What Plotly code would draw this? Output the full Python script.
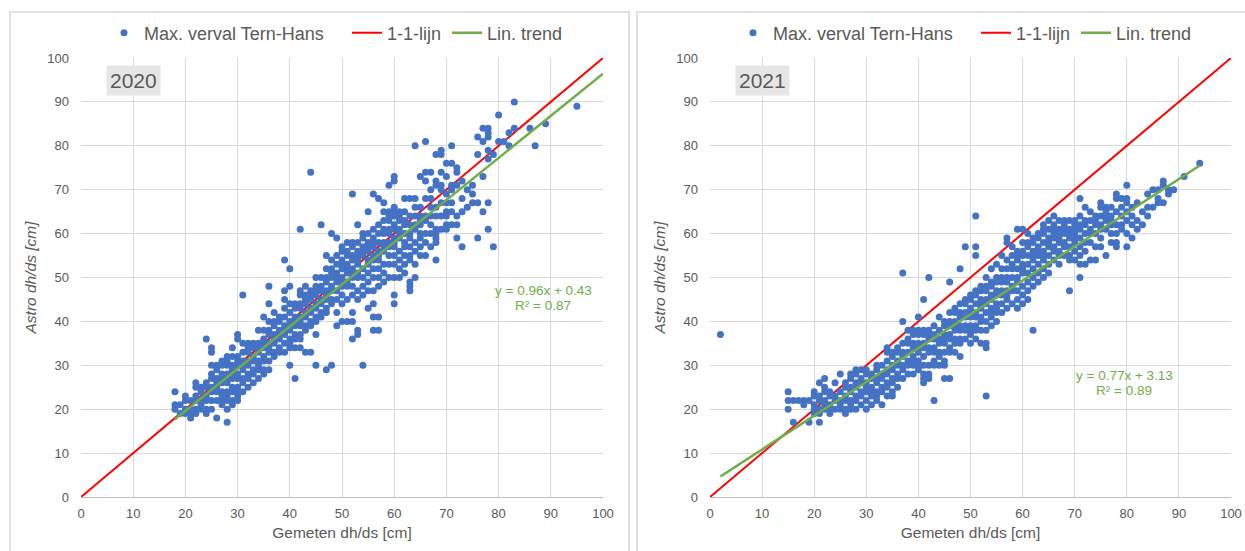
import plotly.graph_objects as go

# ---------------- data ----------------
# 2020: each measured value (x, cm) with the astro values (y, cm) seen at that x
x_2020 = [18, 19, 20, 21, 22, 23, 24, 25, 26, 27, 28, 29, 30, 31, 32, 33, 34, 35,
          36, 37, 38, 39, 40, 41, 42, 43, 44, 45, 46, 47, 48, 49, 50, 51, 52, 53,
          54, 55, 56, 57, 58, 59, 60, 61, 62, 63, 64, 65, 66, 67, 68, 69, 70, 71,
          72, 73, 74, 75, 76, 77, 78, 79, 80, 81, 82, 83, 86, 87, 89, 95]
y_2020 = [
    [24, 21, 20],
    [21, 19],
    [23, 22, 20, 19],
    [22, 20, 19, 18],
    [26, 25, 23, 22, 20, 19],
    [25, 24, 22, 21, 20],
    [36, 26, 25, 23, 22, 20, 19],
    [34, 33, 30, 28, 27, 25, 24, 22, 20],
    [30, 29, 27, 26, 25, 24, 22, 18],
    [31, 30, 28, 27, 26, 24, 23, 22, 21],
    [32, 31, 30, 28, 27, 26, 24, 23, 22, 20, 17],
    [34, 32, 30, 29, 28, 27, 25, 24, 22, 21],
    [37, 36, 32, 31, 30, 28, 27, 25, 24, 23, 22],
    [46, 35, 33, 31, 30, 29, 27, 26, 24],
    [35, 34, 33, 31, 30, 28, 27, 25],
    [35, 34, 32, 31, 29, 28, 26],
    [38, 35, 34, 33, 31, 30, 29, 27],
    [41, 38, 36, 35, 34, 32, 31, 29, 28],
    [48, 44, 40, 38, 37, 35, 34, 33, 31, 29],
    [42, 40, 39, 37, 36, 35, 33, 32],
    [41, 40, 38, 37, 36, 34, 33],
    [54, 47, 45, 43, 41, 39, 38, 37, 35, 33],
    [52, 48, 44, 42, 40, 39, 38, 36, 35, 34, 30],
    [44, 43, 41, 40, 39, 37, 36, 34, 27],
    [61, 47, 46, 44, 43, 41, 40, 39, 37, 36, 34],
    [48, 46, 45, 44, 42, 41, 39, 38, 33],
    [74, 47, 46, 45, 43, 42, 40, 39, 33],
    [50, 48, 47, 46, 44, 43, 41, 40, 37, 30],
    [62, 50, 48, 47, 45, 44, 42, 41],
    [55, 52, 50, 49, 47, 46, 45, 43, 42, 29],
    [60, 54, 52, 51, 50, 48, 47, 45, 44, 30],
    [59, 55, 53, 51, 50, 49, 47, 45, 42, 39],
    [57, 56, 54, 53, 52, 50, 49, 48, 46, 44, 40],
    [58, 56, 55, 53, 52, 51, 49, 48, 45, 40],
    [69, 58, 57, 55, 54, 52, 51, 50, 48, 46, 42, 40, 36],
    [62, 58, 56, 55, 54, 53, 51, 50, 47, 45, 38, 37],
    [60, 59, 57, 56, 55, 52, 50, 48, 46, 30],
    [65, 60, 58, 57, 56, 54, 53, 51, 49, 47, 43],
    [69, 61, 59, 58, 57, 55, 54, 52, 50, 47, 44, 41, 38],
    [68, 62, 60, 58, 56, 55, 54, 52, 50, 48, 41, 38],
    [67, 65, 63, 61, 60, 58, 57, 56, 53, 51, 49],
    [71, 65, 64, 63, 61, 60, 58, 57, 55, 53, 50],
    [73, 72, 66, 65, 64, 62, 61, 59, 58, 57, 55, 53, 50, 46, 44],
    [65, 64, 63, 61, 60, 59, 56, 54, 52, 50],
    [68, 65, 63, 62, 60, 58, 57, 55, 53, 51],
    [68, 64, 62, 60, 59, 57, 55, 54, 49, 48, 47],
    [80, 68, 66, 64, 62, 61, 58, 56, 53, 50],
    [73, 66, 64, 63, 62, 60, 59, 57, 55],
    [81, 74, 72, 68, 64, 63, 60, 58, 55],
    [74, 70, 68, 66, 64, 62, 60, 57],
    [78, 72, 71, 66, 64, 61, 60, 59, 58, 54],
    [79, 78, 74, 71, 70, 67, 64, 61],
    [76, 73, 69, 67, 65, 64, 62, 61],
    [80, 76, 71, 70, 67, 65, 62],
    [75, 74, 71, 64, 62, 59],
    [72, 68, 65, 57],
    [70, 66],
    [71, 69, 67],
    [82, 78, 67, 59],
    [84, 81, 73, 65],
    [84, 83, 82, 79, 77, 67, 61],
    [78, 57],
    [87, 81],
    [81],
    [83, 80],
    [90, 84],
    [84],
    [80],
    [85],
    [89],
]

# 2021
x_2021 = [2, 15, 16, 17, 18, 19, 20, 21, 22, 23, 24, 25, 26, 27, 28, 29, 30, 31,
          32, 33, 34, 35, 36, 37, 38, 39, 40, 41, 42, 43, 44, 45, 46, 47, 48, 49,
          50, 51, 52, 53, 54, 55, 56, 57, 58, 59, 60, 61, 62, 63, 64, 65, 66, 67,
          68, 69, 70, 71, 72, 73, 74, 75, 76, 77, 78, 79, 80, 81, 82, 83, 84, 85,
          86, 87, 88, 89, 91, 94]
y_2021 = [
    [37],
    [24, 22, 20],
    [22, 17],
    [22],
    [21, 22],
    [22, 17],
    [24, 23, 21, 20, 19],
    [26, 23, 22, 20, 19, 17],
    [27, 25, 24, 22, 21, 20],
    [24, 23, 21, 20, 19],
    [26, 23, 22, 20],
    [28, 24, 22, 21, 20],
    [26, 25, 23, 22, 20, 19],
    [28, 27, 25, 24, 22, 21, 20],
    [29, 28, 26, 25, 23, 22, 20],
    [29, 27, 26, 24, 23, 21],
    [29, 28, 26, 25, 24, 22, 20],
    [28, 27, 25, 24, 23, 21],
    [30, 29, 27, 26, 24, 23, 22],
    [30, 28, 27, 25, 24, 21],
    [34, 33, 31, 29, 28, 26, 25, 23],
    [33, 32, 30, 29, 27, 26, 24, 23],
    [34, 33, 31, 30, 28, 27, 25],
    [51, 40, 35, 33, 32, 30, 29, 27],
    [38, 36, 35, 33, 31, 30, 28],
    [38, 37, 35, 34, 32, 31, 30, 28],
    [41, 38, 37, 35, 34, 33, 31, 30, 29],
    [45, 38, 37, 35, 34, 32, 30, 28, 27, 26],
    [50, 38, 37, 36, 34, 33, 30, 28, 27],
    [39, 37, 36, 34, 33, 31, 30, 22],
    [41, 38, 36, 35, 33, 32, 30],
    [40, 39, 37, 36, 35, 33, 31, 30, 27],
    [49, 42, 40, 39, 37, 36, 34, 33, 27],
    [43, 42, 40, 39, 38, 36, 35, 33],
    [52, 44, 42, 41, 39, 38, 36, 35, 32],
    [57, 45, 44, 42, 41, 39, 38, 36],
    [46, 45, 43, 42, 41, 39, 38, 37, 35],
    [64, 57, 55, 47, 46, 44, 42, 41, 39, 38, 36],
    [48, 47, 45, 44, 43, 41, 40, 38, 35],
    [50, 48, 47, 45, 44, 42, 40, 38, 35, 34, 23],
    [52, 49, 48, 46, 45, 43, 42, 41, 39],
    [53, 50, 49, 47, 46, 44, 43, 42, 40],
    [55, 52, 50, 49, 47, 46, 44, 42],
    [59, 58, 54, 52, 50, 49, 47, 46, 45, 43],
    [57, 55, 53, 52, 50, 48, 47, 44],
    [61, 56, 55, 54, 52, 50, 49, 47, 45, 43],
    [61, 58, 56, 55, 53, 52, 51, 48, 46, 44],
    [60, 58, 57, 55, 53, 51, 49, 47, 45],
    [59, 58, 56, 55, 54, 52, 50, 48, 38],
    [60, 59, 57, 56, 55, 53, 51, 49],
    [62, 61, 60, 58, 56, 55, 54, 52, 50],
    [63, 61, 59, 58, 57, 55, 53, 51],
    [64, 62, 61, 60, 59, 57, 56, 54],
    [63, 61, 60, 59, 58, 56, 55, 53],
    [63, 62, 61, 60, 58, 57, 55],
    [63, 61, 60, 59, 57, 55, 54, 47],
    [63, 62, 61, 60, 59, 58, 56, 54],
    [68, 64, 62, 61, 59, 57, 55, 53, 50],
    [66, 63, 62, 60, 58, 56, 53],
    [65, 63, 61, 60, 58, 54],
    [64, 63, 62, 60, 57, 54],
    [67, 66, 64, 62, 61, 59, 57],
    [66, 65, 64, 63, 61, 55],
    [66, 64, 63, 62, 60, 58],
    [69, 68, 65, 62, 60, 58, 57],
    [68, 66, 64, 62, 61],
    [71, 68, 67, 65, 63, 60, 57],
    [66, 64, 62, 59],
    [67, 63, 61],
    [65, 62],
    [69, 66, 64],
    [70, 66],
    [70, 68, 67],
    [72, 71, 67],
    [69, 70],
    [70],
    [73],
    [76],
]

years = ["2020", "2021"]
trend_slope = [0.96, 0.77]
trend_intercept = [0.43, 3.13]
trend_r2 = [0.87, 0.89]
trend_x_range = [[18, 100], [2, 94]]
one_to_one = [0, 100]
axis_ticks = [0, 10, 20, 30, 40, 50, 60, 70, 80, 90, 100]

series_name = "Max. verval Tern-Hans"
line_name = "1-1-lijn"
trend_name = "Lin. trend"
x_title = "Gemeten dh/ds [cm]"
y_title = "Astro dh/ds [cm]"

# ---------------- styling / layout helpers ----------------
W, H = 1245, 551
ML, MR, MT, MB = 81, 14, 58, 54
PW, PH = W - ML - MR, H - MT - MB


def px(v):
    return (v - ML) / PW


def py(v):
    return (H - MB - v) / PH


FONT = "Liberation Sans, Arial, Helvetica, sans-serif"
TXT = "#595959"
BLUE = "#4472c4"
RED = "#ff0000"
GREEN = "#70ad47"
GRID = "#d9d9d9"

datasets = [(x_2020, y_2020), (x_2021, y_2021)]
x_domains = [[0, px(603)], [px(710), 1]]
panel_shift = [0, 629]

fig = go.Figure()

for i, (xc, yc) in enumerate(datasets):
    xs = [x for x, ys in zip(xc, yc) for _ in ys]
    ys_flat = [y for ys in yc for y in ys]
    xa = "x" if i == 0 else "x2"
    ya = "y" if i == 0 else "y2"
    lg = "legend" if i == 0 else "legend2"

    fig.add_trace(go.Scatter(
        x=one_to_one, y=one_to_one, mode="lines", name=line_name,
        line=dict(color=RED, width=2), xaxis=xa, yaxis=ya, legend=lg,
        legendrank=2, legendwidth=55, hoverinfo="skip"))
    fig.add_trace(go.Scatter(
        x=xs, y=ys_flat, mode="markers", name=series_name,
        marker=dict(color=BLUE, size=7, line=dict(width=0)),
        xaxis=xa, yaxis=ya, legend=lg, legendrank=1, legendwidth=198))
    tx = trend_x_range[i]
    ty = [trend_slope[i] * v + trend_intercept[i] for v in tx]
    fig.add_trace(go.Scatter(
        x=tx, y=ty, mode="lines", name=trend_name,
        line=dict(color=GREEN, width=2.5), xaxis=xa, yaxis=ya, legend=lg,
        legendrank=3, hoverinfo="skip"))

axis_common = dict(
    range=[0, 100], tickvals=axis_ticks, showgrid=True, gridcolor=GRID,
    gridwidth=1, zeroline=False, ticks="", automargin=False,
    tickfont=dict(family=FONT, size=13, color=TXT),
)

layout = dict(
    width=W, height=H, margin=dict(l=ML, r=MR, t=MT, b=MB),
    paper_bgcolor="white", plot_bgcolor="white",
    font=dict(family=FONT, color=TXT), showlegend=True,
)
for i in range(2):
    sx = "" if i == 0 else "2"
    layout["xaxis" + sx] = dict(
        axis_common, domain=x_domains[i], anchor="y" + sx,
        showline=True, linecolor="#bfbfbf", linewidth=1,
        ticklabelstandoff=4,
        title=dict(text=x_title, font=dict(family=FONT, size=15.5, color=TXT), standoff=7),
    )
    layout["yaxis" + sx] = dict(
        axis_common, domain=[0, 1], anchor="x" + sx, showline=False,
        ticklabelstandoff=11,
        title=dict(text=y_title, font=dict(family=FONT, size=15.5, color=TXT, style="italic"), standoff=6),
    )
    layout["legend" if i == 0 else "legend2"] = dict(
        orientation="h", x=px(104 + panel_shift[i]), xanchor="left",
        y=py(33), yanchor="middle", bgcolor="rgba(0,0,0,0)",
        font=dict(family=FONT, size=18, color=TXT), itemclick=False,
    )

fig.update_layout(**layout)

# panel frames
fig.add_shape(type="rect", xref="paper", yref="paper", x0=px(10), x1=px(629),
              y0=py(570), y1=py(12), line=dict(color=GRID, width=1.5), layer="below")
fig.add_shape(type="rect", xref="paper", yref="paper", x0=px(637), x1=px(1260),
              y0=py(570), y1=py(12), line=dict(color=GRID, width=1.5), layer="below")

# year labels and trend equations
year_pos = [(133.5, 80.5), (762, 80.5)]
eq_pos = [(543, 290, 305), (1124, 375, 390)]
for i in range(2):
    fig.add_annotation(
        text=years[i], x=px(year_pos[i][0]), y=py(year_pos[i][1]), xref="paper",
        yref="paper", showarrow=False, xanchor="center", yanchor="middle",
        bgcolor="#e7e6e6", borderpad=3, font=dict(family=FONT, size=21, color=TXT))
    fig.add_annotation(
        text=f"y = {trend_slope[i]:.2f}x + {trend_intercept[i]:.2f}",
        x=px(eq_pos[i][0]), y=py(eq_pos[i][1]), xref="paper", yref="paper",
        showarrow=False, xanchor="center", yanchor="middle",
        font=dict(family=FONT, size=13.5, color=GREEN))
    fig.add_annotation(
        text=f"R² = {trend_r2[i]:.2f}",
        x=px(eq_pos[i][0]), y=py(eq_pos[i][2]), xref="paper", yref="paper",
        showarrow=False, xanchor="center", yanchor="middle",
        font=dict(family=FONT, size=13.5, color=GREEN))

fig.write_html("out.html")
